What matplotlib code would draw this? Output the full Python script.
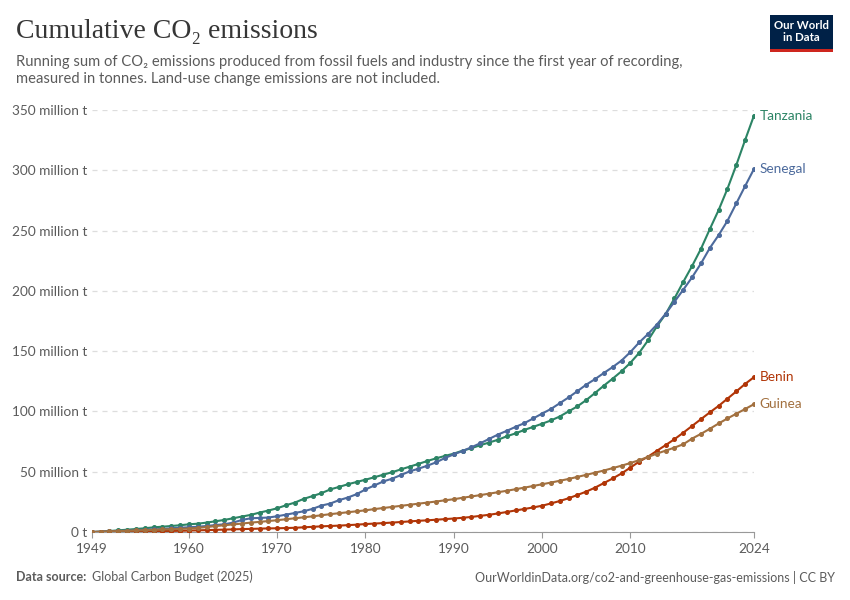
import matplotlib.pyplot as plt
import matplotlib.patches as patches

years = list(range(1949, 2025))

tanzania = [0.0, 0.3, 0.8, 1.4, 1.9, 2.5, 3.1, 3.9, 4.4, 5.0, 5.6,
            6.4, 6.9, 7.8, 8.9, 10.0, 11.4, 12.8, 14.2, 16.1, 17.8,
            19.7, 22.2, 24.4, 27.5, 29.8, 32.2, 35.3, 37.4, 39.6, 41.5,
            43.4, 45.4, 47.5, 49.6, 51.9, 54.2, 56.5, 58.9, 61.1, 63.1,
            65.0, 67.5, 69.5, 72.0, 74.2, 76.5, 79.4, 81.8, 84.7, 87.2,
            89.8, 92.5, 95.8, 100.0, 104.2, 109.4, 115.3, 121.4, 127.2, 133.3,
            140.3, 148.6, 158.9, 170.5, 180.8, 193.8, 207.5, 220.7, 234.9, 251.2,
            267.0, 284.7, 304.3, 325.1, 345.3]

senegal = [0.0, 0.3, 0.5, 0.8, 1.1, 1.4, 1.9, 2.2, 2.5, 3.1, 3.6,
           3.9, 4.4, 5.0, 5.8, 6.4, 7.8, 10.0, 11.4, 11.7, 12.0,
           13.1, 14.4, 15.8, 17.2, 19.2, 21.9, 23.6, 26.4, 28.6, 31.4,
           35.3, 38.6, 41.9, 44.2, 47.2, 50.3, 52.5, 55.0, 57.8, 61.4,
           64.4, 67.2, 70.3, 73.6, 77.2, 80.8, 83.9, 87.2, 90.3, 94.2,
           98.2, 102.0, 106.8, 111.6, 116.8, 122.2, 126.8, 131.9, 136.8, 142.2,
           149.2, 157.2, 164.2, 172.0, 181.0, 191.0, 201.0, 211.3, 222.7, 235.5,
           246.2, 258.1, 272.5, 286.9, 301.0]

benin = [0.0, 0.1, 0.2, 0.3, 0.4, 0.5, 0.6, 0.7, 0.8, 0.9, 1.0,
         1.2, 1.4, 1.6, 1.8, 2.0, 2.2, 2.4, 2.6, 2.8, 3.0,
         3.1, 3.3, 3.5, 3.9, 4.3, 4.7, 5.0, 5.3, 5.7, 6.1,
         6.6, 7.0, 7.4, 7.8, 8.3, 8.8, 9.3, 9.7, 10.2, 10.7,
         11.2, 11.8, 12.5, 13.4, 14.3, 15.4, 16.6, 17.9, 19.1, 20.4,
         21.8, 23.7, 25.7, 28.0, 30.7, 33.5, 36.8, 40.6, 44.4, 48.6,
         53.4, 58.4, 62.5, 67.3, 72.1, 77.0, 82.4, 88.0, 93.6, 99.2,
         104.6, 110.6, 116.6, 122.8, 128.4]

guinea = [0.0, 0.2, 0.5, 0.8, 1.0, 1.3, 1.5, 1.8, 2.1, 2.3, 2.6,
          2.9, 3.4, 4.1, 4.9, 5.6, 6.3, 7.0, 7.8, 8.4, 9.1,
          9.8, 10.6, 11.4, 12.2, 13.0, 13.9, 14.8, 15.6, 16.4, 17.2,
          18.0, 19.0, 19.9, 20.8, 21.7, 22.6, 23.5, 24.4, 25.3, 26.3,
          27.2, 28.4, 29.5, 30.6, 31.8, 33.0, 34.2, 35.5, 36.8, 38.2,
          39.6, 41.0, 42.5, 44.0, 45.7, 47.4, 49.2, 51.0, 53.0, 55.0,
          57.2, 59.6, 62.2, 65.0, 67.5, 70.0, 72.8, 77.5, 81.4, 85.6,
          90.0, 94.2, 98.1, 102.0, 106.0]

series = [("Tanzania", tanzania, "#2c8465"),
          ("Senegal", senegal, "#4c6a9c"),
          ("Benin", benin, "#b13507"),
          ("Guinea", guinea, "#a2703f")]

yticks = [0, 50, 100, 150, 200, 250, 300, 350]
ytick_labels = ["0 t", "50 million t", "100 million t", "150 million t",
                "200 million t", "250 million t", "300 million t", "350 million t"]
xticks = [1949, 1960, 1970, 1980, 1990, 2000, 2010, 2024]

plt.rcParams['font.family'] = ['Lato', 'DejaVu Sans']

fig = plt.figure(figsize=(8.5, 6), dpi=100)
ax = fig.add_axes([0.108, 0.1133, 0.779, 0.7034])

for name, values, color in series:
    ax.plot(years, values, color=color, linewidth=1.5, marker='o', markersize=2.6, zorder=3)
    ax.annotate(name, xy=(years[-1], values[-1]), xytext=(4, 0), textcoords='offset points',
                va='center', ha='left', color=color, fontsize=9.8)

ax.set_xlim(1949, 2024)
ax.set_ylim(0, 350)
ax.set_yticks(yticks)
ax.set_yticklabels(ytick_labels)
ax.set_xticks(xticks)
ax.tick_params(axis='y', length=0, pad=3, labelsize=9.8, labelcolor='#5b5b5b')
ax.tick_params(axis='x', length=4, color='#999999', pad=4, labelsize=9.8, labelcolor='#5b5b5b')
ax.grid(axis='y', color='#dddddd', linestyle=(0, (4, 4)), linewidth=0.9)
for side in ['top', 'right', 'left']:
    ax.spines[side].set_visible(False)
ax.spines['bottom'].set_color('#999999')
ax.set_axisbelow(True)

fig.text(0.019, 0.947, "Cumulative CO₂ emissions", fontsize=20, color='#363636',
         family=['Liberation Serif', 'DejaVu Serif'], va='center', ha='left')
fig.text(0.019, 0.883, "Running sum of CO₂ emissions produced from fossil fuels and industry since the first year of recording,\n"
         "measured in tonnes. Land-use change emissions are not included.",
         fontsize=10.6, color='#5b5b5b', va='center', ha='left', linespacing=1.3)

logo = patches.Rectangle((0.906, 0.913), 0.074, 0.062, transform=fig.transFigure,
                         facecolor='#002147', edgecolor='none')
fig.patches.append(logo)
bar = patches.Rectangle((0.906, 0.913), 0.074, 0.006, transform=fig.transFigure,
                        facecolor='#ce261e', edgecolor='none')
fig.patches.append(bar)
fig.text(0.943, 0.947, "Our World\nin Data", color='white', fontsize=8.2, ha='center', va='center',
         linespacing=1.1, fontweight='bold')

fig.text(0.019, 0.038, "Data source:", fontsize=9, color='#5b5b5b', fontweight='bold', va='center')
fig.text(0.108, 0.038, "Global Carbon Budget (2025)", fontsize=9, color='#5b5b5b', va='center')
fig.text(0.982, 0.038, "OurWorldinData.org/co2-and-greenhouse-gas-emissions | CC BY", fontsize=9,
         color='#5b5b5b', va='center', ha='right')

fig.savefig("out.png", dpi=100, facecolor='white')
